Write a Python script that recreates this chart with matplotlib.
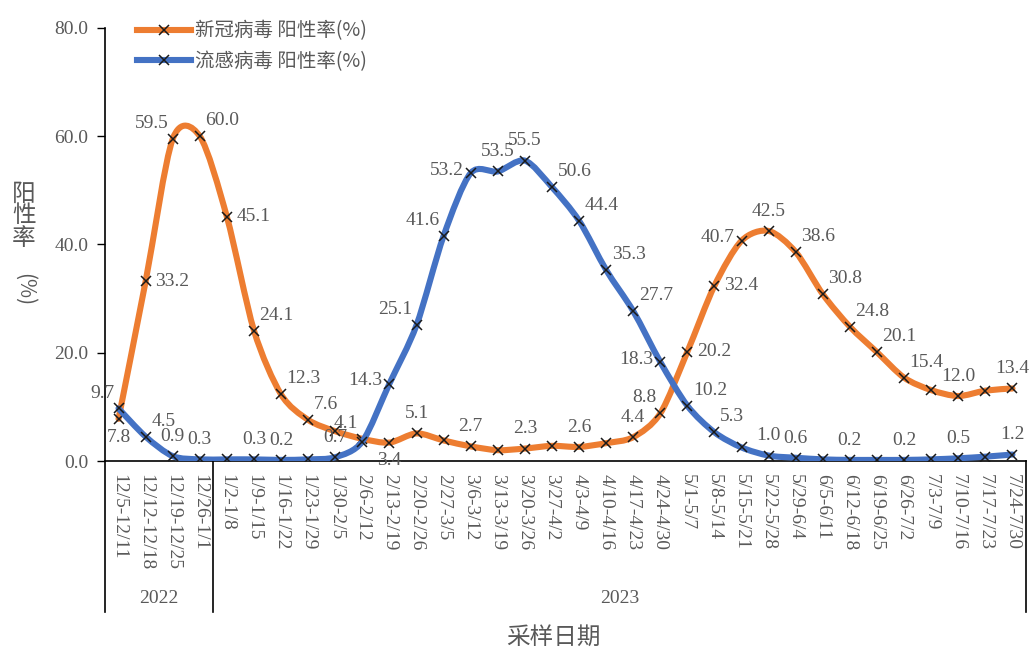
import matplotlib
matplotlib.use("Agg")
import matplotlib.pyplot as plt
import numpy as np
from matplotlib.path import Path
from matplotlib.patches import PathPatch
from matplotlib.lines import Line2D
import matplotlib.transforms as mtransforms

plt.rcParams['font.family'] = ['Noto Sans CJK SC', 'DejaVu Sans']

# week labels
weeks_2022 = ['12/5-12/11', '12/12-12/18', '12/19-12/25', '12/26-1/1']
weeks_2023 = ['1/2-1/8', '1/9-1/15', '1/16-1/22', '1/23-1/29', '1/30-2/5',
              '2/6-2/12', '2/13-2/19', '2/20-2/26', '2/27-3/5', '3/6-3/12',
              '3/13-3/19', '3/20-3/26', '3/27-4/2', '4/3-4/9', '4/10-4/16',
              '4/17-4/23', '4/24-4/30', '5/1-5/7', '5/8-5/14', '5/15-5/21',
              '5/22-5/28', '5/29-6/4', '6/5-6/11', '6/12-6/18', '6/19-6/25',
              '6/26-7/2', '7/3-7/9', '7/10-7/16', '7/17-7/23', '7/24-7/30']
weeks = weeks_2022 + weeks_2023

# 新冠病毒 阳性率(%)
covid = [7.8, 33.2, 59.5, 60.0, 45.1, 24.1, 12.3, 7.6, 5.5, 4.1,
         3.4, 5.1, 3.8, 2.7, 2.0, 2.3, 2.8, 2.6, 3.3, 4.4,
         8.8, 20.2, 32.4, 40.7, 42.5, 38.6, 30.8, 24.8, 20.1, 15.4,
         13.1, 12.0, 13.0, 13.4]
# which points carry a value label (and where)
covid_lbl = ['b', 'r', 'al', 'ar', 'r', 'ar', 'ar', 'ar', None, 'al',
             'b', 'a', None, 'a', None, 'a', None, 'a', None, 'a',
             'al', 'r', 'r', 'l', 'a', 'ar', 'ar', 'ar', 'ar', 'ar',
             None, 'a', None, 'a']

# 流感病毒 阳性率(%)
flu = [9.7, 4.5, 0.9, 0.3, 0.3, 0.3, 0.2, 0.3, 0.7, 3.6,
       14.3, 25.1, 41.6, 53.2, 53.5, 55.5, 50.6, 44.4, 35.3, 27.7,
       18.3, 10.2, 5.3, 2.5, 1.0, 0.6, 0.3, 0.2, 0.2, 0.2,
       0.3, 0.5, 0.8, 1.2]
flu_lbl = ['al', 'ar', 'a', 'a', None, 'a', 'a', None, 'a', None,
           'l', 'al', 'al', 'l', 'a', 'a', 'ar', 'ar', 'ar', 'ar',
           'l', 'ar', 'ar', None, 'a', 'a', None, 'a', None, 'a',
           None, 'a', None, 'a']

orange = '#ED7D31'
blue = '#4472C4'
grey = '#595959'
numfont = 'Liberation Serif'

offsets = {'a': (0, 8, 'center', 'bottom'), 'b': (0, -7, 'center', 'top'),
           'l': (-5, 2, 'right', 'center'), 'r': (7, 0, 'left', 'center'),
           'ar': (4, 5, 'left', 'bottom'), 'al': (-3, 5, 'right', 'bottom')}


def smooth_path(xs, ys, k=1/7):
    # bezier path through the points, like the spreadsheet "smoothed line"
    pts = np.column_stack([xs, ys])
    verts = [pts[0]]
    codes = [Path.MOVETO]
    n = len(pts)
    for i in range(n - 1):
        p0 = pts[max(i - 1, 0)]
        p1 = pts[i]
        p2 = pts[i + 1]
        p3 = pts[min(i + 2, n - 1)]
        c1 = p1 + (p2 - p0) * k
        c2 = p2 - (p3 - p1) * k
        verts += [c1, c2, p2]
        codes += [Path.CURVE4] * 3
    return Path(verts, codes)


fig = plt.figure(figsize=(10.32, 6.47), dpi=100)
ax = fig.add_axes([105/1032, 186/647, 921/1032, 433/647])

x = np.arange(len(weeks))
for vals, col, z in [(covid, orange, 2), (flu, blue, 3)]:
    ax.add_patch(PathPatch(smooth_path(x, vals), facecolor='none',
                           edgecolor=col, lw=4.4, capstyle='round',
                           joinstyle='round', zorder=z))
    ax.plot(x, vals, ls='none', marker='x', color='#1a1a1a', ms=7,
            mew=1.1, zorder=z + 0.5)

for vals, lbls in [(covid, covid_lbl), (flu, flu_lbl)]:
    for i, (v, p) in enumerate(zip(vals, lbls)):
        if p is None:
            continue
        dx, dy, ha, va = offsets[p]
        ax.annotate(f'{v:.1f}', (i, v), xytext=(dx, dy),
                    textcoords='offset points', ha=ha, va=va,
                    fontsize=14, color=grey, family=numfont, zorder=6)

ax.set_xlim(-0.5, len(weeks) - 0.5)
ax.set_ylim(0, 80)
ax.set_yticks([0, 20, 40, 60, 80])
ax.set_yticklabels([f'{t:.1f}' for t in [0, 20, 40, 60, 80]],
                   family=numfont, fontsize=14, color=grey)
ax.tick_params(axis='y', direction='out', length=6, width=1, pad=6)
ax.set_xticks(x)
ax.set_xticklabels(weeks, rotation=270, family=numfont, fontsize=14,
                   color=grey, va='top', ha='center')
ax.tick_params(axis='x', length=0, pad=9)
for s in ['top', 'right']:
    ax.spines[s].set_visible(False)
ax.spines['left'].set_linewidth(1.2)
ax.spines['bottom'].set_linewidth(1.2)

# year group separators
trans = mtransforms.blended_transform_factory(ax.transData, ax.transAxes)
for xb in [-0.5, len(weeks_2022) - 0.5, len(weeks) - 0.5]:
    ax.add_line(Line2D([xb, xb], [0, -0.349], transform=trans, color='black',
                       lw=1.2, clip_on=False))
ax.text((len(weeks_2022) - 1) / 2, -0.318, '2022', transform=trans,
        ha='center', va='center', fontsize=14, color=grey, family=numfont)
ax.text(len(weeks_2022) + (len(weeks_2023) - 1) / 2, -0.318, '2023',
        transform=trans, ha='center', va='center', fontsize=14, color=grey,
        family=numfont)

fig.text(553/1032, 1 - 637/647, '采样日期', ha='center', va='center',
         fontsize=17, color=grey)
fig.text(24/1032, 1 - 216/647, '阳\n性\n率', ha='center', va='center',
         fontsize=17, color=grey, linespacing=0.95)
fig.text(24/1032, 1 - 290/647, '(%)', ha='center', va='center',
         fontsize=15, color=grey, rotation=270)

handles = [Line2D([], [], color=orange, lw=4.4, marker='x', mec='#1a1a1a',
                  ms=7, mew=1.1),
           Line2D([], [], color=blue, lw=4.4, marker='x', mec='#1a1a1a',
                  ms=7, mew=1.1)]
fig.legend(handles, ['新冠病毒 阳性率(%)', '流感病毒 阳性率(%)'],
           loc='upper left', bbox_to_anchor=(119/1032, 1 - 3/647),
           frameon=False, fontsize=14, handlelength=2.8, handletextpad=0.2,
           labelspacing=0.5, labelcolor=grey)

fig.savefig('out.png', dpi=100)
